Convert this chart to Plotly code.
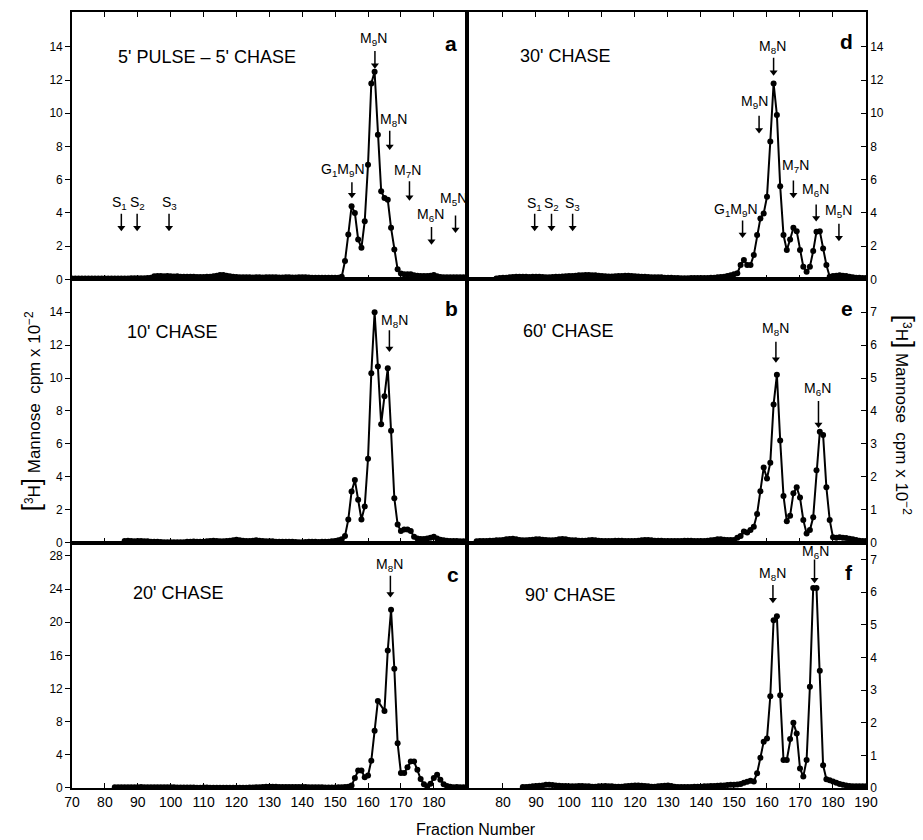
import plotly.graph_objects as go

# ------------------------------------------------------------------ data
# fraction numbers and [3H]Mannose cpm x 10^-2 for each chase time
frac_a = list(range(70, 191))
cpm_a = [0.05, 0.05, 0.05, 0.05, 0.05, 0.05, 0.05, 0.05, 0.05, 0.05,
         0.05, 0.05, 0.05, 0.05, 0.05, 0.05, 0.05, 0.05, 0.06, 0.06,
         0.06, 0.06, 0.07, 0.08, 0.10, 0.18, 0.20, 0.20, 0.18, 0.20,
         0.18, 0.17, 0.18, 0.16, 0.15, 0.16, 0.15, 0.15, 0.14, 0.14,
         0.14, 0.15, 0.16, 0.18, 0.22, 0.26, 0.26, 0.22, 0.18, 0.15,
         0.14, 0.13, 0.12, 0.12, 0.12, 0.11, 0.12, 0.12, 0.11, 0.12,
         0.12, 0.12, 0.12, 0.11, 0.11, 0.12, 0.12, 0.11, 0.11, 0.12,
         0.12, 0.12, 0.11, 0.10, 0.10, 0.10, 0.10, 0.10, 0.10, 0.10,
         0.10, 0.10, 0.15, 1.1, 2.7, 4.4, 4.0, 2.4, 1.9, 3.5,
         6.9, 11.8, 12.5, 8.7, 5.3, 4.9, 4.8, 3.1, 1.8, 0.6,
         0.35, 0.3, 0.3, 0.3, 0.25, 0.22, 0.2, 0.2, 0.2, 0.22,
         0.26, 0.18, 0.14, 0.13, 0.12, 0.12, 0.13, 0.12, 0.12, 0.12,
         0.12]

frac_b = list(range(86, 191))
cpm_b = [0.10, 0.12, 0.10, 0.08,
         0.10, 0.10, 0.08, 0.08, 0.06, 0.05, 0.05, 0.04, 0.03, 0.03,
         0.03, 0.02, 0.02, 0.02, 0.03, 0.05, 0.06, 0.07, 0.06, 0.06,
         0.06, 0.08, 0.10, 0.12, 0.10, 0.08, 0.08, 0.10, 0.12, 0.15,
         0.18, 0.15, 0.12, 0.10, 0.10, 0.12, 0.14, 0.12, 0.10, 0.08,
         0.08, 0.08, 0.06, 0.06, 0.05, 0.05, 0.06, 0.05, 0.04, 0.03,
         0.03, 0.04, 0.06, 0.06, 0.05, 0.04, 0.05, 0.05, 0.06, 0.08,
         0.10, 0.15, 0.2, 0.4, 1.4, 3.1, 3.8, 2.6, 1.4, 2.2,
         5.1, 10.3, 14.0, 10.7, 7.2, 8.9, 10.6, 6.8, 2.7, 1.1,
         0.7, 0.8, 0.8, 0.7, 0.35, 0.25, 0.22, 0.22, 0.25, 0.3,
         0.35, 0.25, 0.18, 0.14, 0.12, 0.10, 0.10, 0.10, 0.08, 0.08,
         0.08]

frac_c = list(range(83, 164)) + list(range(165, 191))
cpm_c = [0.10, 0.10, 0.10, 0.10, 0.10, 0.10, 0.10,
         0.10, 0.12, 0.10, 0.10, 0.08, 0.10, 0.10, 0.10, 0.08, 0.08,
         0.08, 0.08, 0.06, 0.06, 0.05, 0.05, 0.05, 0.05, 0.04, 0.04,
         0.05, 0.05, 0.04, 0.03, 0.03, 0.02, 0.02, 0.02, 0.02, 0.02,
         0.02, 0.02, 0.03, 0.04, 0.05, 0.06, 0.08, 0.10, 0.12, 0.14,
         0.15, 0.14, 0.14, 0.12, 0.12, 0.12, 0.12, 0.12, 0.12, 0.12,
         0.12, 0.12, 0.10, 0.10, 0.10, 0.10, 0.08, 0.06, 0.05, 0.05,
         0.05, 0.08, 0.10, 0.12, 0.15, 0.3, 1.2, 2.1, 2.1, 1.3,
         1.5, 3.3, 6.9, 10.5,
         9.3, 16.6, 21.5, 14.4, 5.4,
         1.8, 1.8, 2.5, 3.2, 3.2, 2.2, 1.1, 0.45, 0.2, 0.5,
         1.2, 1.6, 1.0, 0.45, 0.25, 0.15, 0.10, 0.12, 0.10, 0.10,
         0.10]

frac_d = list(range(78, 191))
cpm_d = [0.05, 0.08,
         0.10, 0.10, 0.12, 0.14, 0.15, 0.16, 0.16, 0.15, 0.14, 0.15,
         0.16, 0.15, 0.14, 0.13, 0.13, 0.14, 0.15, 0.16, 0.17, 0.18,
         0.20, 0.20, 0.22, 0.24, 0.25, 0.26, 0.26, 0.25, 0.24, 0.22,
         0.20, 0.18, 0.17, 0.17, 0.18, 0.20, 0.20, 0.21, 0.22, 0.20,
         0.18, 0.17, 0.16, 0.15, 0.14, 0.13, 0.13, 0.12, 0.12, 0.10,
         0.10, 0.09, 0.08, 0.08, 0.07, 0.07, 0.07, 0.08, 0.08, 0.08,
         0.08, 0.08, 0.08, 0.10, 0.10, 0.12, 0.14, 0.16, 0.20, 0.25,
         0.30, 0.36, 0.86, 1.16, 0.86, 0.86, 1.46, 2.67, 3.67, 3.97,
         4.97, 8.3, 11.8, 9.9, 5.6, 2.67, 1.76, 2.4, 3.1, 2.9,
         1.76, 0.76, 0.46, 0.76, 1.7, 2.87, 2.9, 1.86, 0.86, 0.16,
         0.2, 0.22, 0.25, 0.22, 0.2, 0.15, 0.12, 0.10, 0.10, 0.08,
         0.08]

frac_e = list(range(72, 191))
cpm_e = [0.04, 0.05, 0.05, 0.05, 0.06, 0.06, 0.07, 0.07,
         0.08, 0.10, 0.11, 0.12, 0.10, 0.08, 0.07, 0.07, 0.08, 0.09,
         0.10, 0.10, 0.09, 0.08, 0.07, 0.07, 0.08, 0.10, 0.11, 0.10,
         0.08, 0.07, 0.07, 0.06, 0.06, 0.06, 0.07, 0.08, 0.07, 0.06,
         0.05, 0.05, 0.05, 0.05, 0.06, 0.06, 0.06, 0.05, 0.05, 0.05,
         0.05, 0.06, 0.07, 0.08, 0.08, 0.07, 0.06, 0.06, 0.06, 0.05,
         0.05, 0.05, 0.05, 0.05, 0.05, 0.06, 0.06, 0.06, 0.05, 0.05,
         0.05, 0.05, 0.06, 0.07, 0.08, 0.10, 0.10, 0.09, 0.08, 0.08,
         0.08, 0.15, 0.20, 0.34, 0.31, 0.38, 0.48, 0.87, 1.56, 2.28,
         1.95, 2.43, 4.2, 5.1, 3.1, 1.42, 0.65, 0.82, 1.5, 1.68,
         1.37, 0.69, 0.28, 0.38, 0.77, 2.2, 3.37, 3.27, 1.68, 0.69,
         0.16, 0.15, 0.16, 0.15, 0.14, 0.12, 0.10, 0.08, 0.06, 0.05,
         0.05]

frac_f = list(range(86, 191))
cpm_f = [0.03, 0.03, 0.04, 0.05,
         0.06, 0.07, 0.08, 0.10, 0.10, 0.09, 0.08, 0.07, 0.06, 0.06,
         0.05, 0.05, 0.05, 0.06, 0.06, 0.05, 0.05, 0.04, 0.04, 0.05,
         0.05, 0.06, 0.05, 0.05, 0.04, 0.04, 0.04, 0.05, 0.06, 0.07,
         0.08, 0.08, 0.07, 0.06, 0.05, 0.04, 0.04, 0.05, 0.06, 0.07,
         0.08, 0.06, 0.04, 0.03, 0.03, 0.03, 0.03, 0.03, 0.04, 0.04,
         0.04, 0.05, 0.05, 0.06, 0.06, 0.07, 0.08, 0.08, 0.09, 0.10,
         0.10, 0.11, 0.12, 0.16, 0.19, 0.22, 0.20, 0.45, 0.93, 1.42,
         1.52, 2.81, 5.14, 5.26, 2.84, 0.86, 0.86, 1.5, 2.0, 1.67,
         0.6, 0.35, 0.86, 3.1, 6.13, 6.13, 3.59, 0.7, 0.27, 0.24,
         0.2, 0.16, 0.12, 0.10, 0.08, 0.06, 0.05, 0.05, 0.05, 0.05,
         0.05]

titles = ["5' PULSE \u2013 5' CHASE", "10' CHASE", "20' CHASE",
          "30' CHASE", "60' CHASE", "90' CHASE"]
letters = ["a", "b", "c", "d", "e", "f"]
left_ticks_x = [70, 80, 90, 100, 110, 120, 130, 140, 150, 160, 170, 180]
right_ticks_x = [80, 90, 100, 110, 120, 130, 140, 150, 160, 170, 180, 190]
ticks_y_14 = [0, 2, 4, 6, 8, 10, 12, 14]
ticks_y_28 = [0, 4, 8, 12, 16, 20, 24, 28]
ticks_y_7 = [0, 1, 2, 3, 4, 5, 6, 7]

# marker labels: (text, label x, label y, arrow x, arrow tail y, arrow head y)
marks_a = [("S<sub>1</sub>", 84.5, 4.6, 85.0, 3.95, 3.1),
           ("S<sub>2</sub>", 89.8, 4.6, 89.8, 3.95, 3.1),
           ("S<sub>3</sub>", 99.5, 4.6, 99.5, 3.95, 3.1),
           ("G<sub>1</sub>M<sub>9</sub>N", 152.3, 6.6, 155.1, 5.85, 5.1),
           ("M<sub>9</sub>N", 161.8, 14.5, 162.1, 13.75, 12.9),
           ("M<sub>8</sub>N", 167.8, 9.6, 166.6, 8.95, 8.0),
           ("M<sub>7</sub>N", 172.1, 6.5, 172.6, 5.9, 4.95),
           ("M<sub>6</sub>N", 178.9, 3.9, 179.3, 3.15, 2.3),
           ("M<sub>5</sub>N", 186.0, 4.85, 186.6, 3.85, 3.0)]
marks_b = [("M<sub>8</sub>N", 167.9, 13.45, 166.5, 12.9, 11.8)]
marks_c = [("M<sub>8</sub>N", 166.5, 26.9, 166.8, 25.6, 23.4)]
marks_d = [("S<sub>1</sub>", 89.6, 4.55, 89.6, 3.95, 3.1),
           ("S<sub>2</sub>", 94.7, 4.55, 94.7, 3.95, 3.1),
           ("S<sub>3</sub>", 101.1, 4.55, 101.1, 3.95, 3.1),
           ("G<sub>1</sub>M<sub>9</sub>N", 150.6, 4.2, 152.6, 3.55, 2.7),
           ("M<sub>9</sub>N", 156.1, 10.7, 157.6, 9.85, 9.0),
           ("M<sub>8</sub>N", 161.8, 14.0, 162.0, 13.35, 12.47),
           ("M<sub>7</sub>N", 168.5, 6.85, 168.0, 5.95, 5.1),
           ("M<sub>6</sub>N", 174.6, 5.4, 174.9, 4.5, 3.7),
           ("M<sub>5</sub>N", 181.6, 4.1, 181.8, 3.35, 2.5)]
marks_e = [("M<sub>8</sub>N", 162.6, 6.48, 162.7, 6.1, 5.57),
           ("M<sub>6</sub>N", 175.4, 4.66, 175.6, 4.3, 3.59)]
marks_f = [("M<sub>8</sub>N", 161.7, 6.57, 161.8, 6.22, 5.77),
           ("M<sub>6</sub>N", 174.6, 7.23, 174.4, 7.0, 6.38)]

# ------------------------------------------------------------------ layout
FONT = "Liberation Sans, Arial, sans-serif"
COL_L = [0.0, 0.4971]
COL_R = [0.4971, 1.0]
ROW_T = [0.6555, 1.0]
ROW_M = [0.3162, 0.6555]
ROW_B = [0.0, 0.3162]

panels = [
    dict(x=frac_a, y=cpm_a, col="L", row=ROW_T, xr=[70, 190], yr=[0, 16.1],
         yt=ticks_y_14, marks=marks_a, tpos=(83.4, 13.4), lpos=(185.3, 14.2)),
    dict(x=frac_b, y=cpm_b, col="L", row=ROW_M, xr=[70, 190], yr=[0, 16.0],
         yt=ticks_y_14, marks=marks_b, tpos=(86.0, 12.8), lpos=(185.3, 14.25)),
    dict(x=frac_c, y=cpm_c, col="L", row=ROW_B, xr=[70, 190], yr=[0, 29.6],
         yt=ticks_y_28, marks=marks_c, tpos=(88.0, 23.5), lpos=(185.8, 25.8)),
    dict(x=frac_d, y=cpm_d, col="R", row=ROW_T, xr=[69, 190], yr=[0, 16.1],
         yt=ticks_y_14, marks=marks_d, tpos=(84.5, 13.45), lpos=(184.2, 14.3)),
    dict(x=frac_e, y=cpm_e, col="R", row=ROW_M, xr=[69, 190], yr=[0, 8.0],
         yt=ticks_y_7, marks=marks_e, tpos=(85.4, 6.42), lpos=(184.1, 7.11)),
    dict(x=frac_f, y=cpm_f, col="R", row=ROW_B, xr=[69, 190], yr=[0, 7.52],
         yt=ticks_y_7, marks=marks_f, tpos=(86.1, 5.9), lpos=(184.9, 6.6)),
]

fig = go.Figure()
annotations = []
layout = {}

for i, p in enumerate(panels):
    n = i + 1
    xs = "" if n == 1 else str(n)
    xref, yref = "x" + xs, "y" + xs
    fig.add_trace(go.Scatter(
        x=p["x"], y=p["y"], mode="lines+markers",
        line=dict(color="black", width=2),
        marker=dict(color="black", size=6),
        xaxis=xref, yaxis=yref, hoverinfo="x+y"))

    # arrows: shafts and heads
    sx, sy, hx, hy = [], [], [], []
    for (txt, lx, ly, axx, tail, head) in p["marks"]:
        sx += [axx, axx, None]
        sy += [tail, head, None]
        hx.append(axx)
        hy.append(head)
    fig.add_trace(go.Scatter(x=sx, y=sy, mode="lines",
                             line=dict(color="black", width=1.5),
                             xaxis=xref, yaxis=yref, hoverinfo="skip"))
    fig.add_trace(go.Scatter(x=hx, y=hy, mode="markers",
                             marker=dict(symbol="triangle-down", size=7,
                                         color="black"),
                             xaxis=xref, yaxis=yref, hoverinfo="skip"))

    left = p["col"] == "L"
    top = p["row"] is ROW_T
    bottom = p["row"] is ROW_B
    layout["xaxis" + xs] = dict(
        domain=COL_L if left else COL_R, anchor=yref, range=p["xr"],
        tickmode="array", tickvals=left_ticks_x if left else right_ticks_x,
        showticklabels=bottom, ticks="inside", ticklen=5, tickwidth=1.3,
        tickcolor="black", showline=True, linecolor="black", linewidth=1.6,
        mirror="ticks" if top else True, showgrid=False, zeroline=False,
        tickfont=dict(family=FONT, size=14, color="black"))
    layout["yaxis" + xs] = dict(
        domain=p["row"], anchor=xref, range=p["yr"], side="left" if left else "right",
        tickmode="array", tickvals=p["yt"],
        ticks="outside" if left else "inside", ticklen=5, tickwidth=1.3,
        tickcolor="black", showline=True, linecolor="black", linewidth=1.6,
        mirror=True, showgrid=False, zeroline=False,
        tickfont=dict(family=FONT, size=12, color="black"))

    annotations.append(dict(x=p["tpos"][0], y=p["tpos"][1], xref=xref, yref=yref,
                            text=titles[i], showarrow=False, xanchor="left",
                            yanchor="middle",
                            font=dict(family=FONT, size=18, color="black")))
    annotations.append(dict(x=p["lpos"][0], y=p["lpos"][1], xref=xref, yref=yref,
                            text="<b>%s</b>" % letters[i], showarrow=False,
                            xanchor="center", yanchor="middle",
                            font=dict(family=FONT, size=21, color="black")))
    for (txt, lx, ly, axx, tail, head) in p["marks"]:
        annotations.append(dict(x=lx, y=ly, xref=xref, yref=yref, text=txt,
                                showarrow=False, xanchor="center", yanchor="middle",
                                font=dict(family=FONT, size=14, color="black")))

ytitle = ("<span style='font-size:26px'>[</span><sup>3</sup>H"
          "<span style='font-size:26px'>]</span> Mannose  cpm x 10<sup>\u22122</sup>")
annotations.append(dict(x=-0.052, y=0.485, xref="paper", yref="paper", text=ytitle,
                        textangle=-90, showarrow=False, xanchor="center",
                        yanchor="middle", font=dict(family=FONT, size=17, color="black")))
annotations.append(dict(x=1.049, y=0.481, xref="paper", yref="paper", text=ytitle,
                        textangle=90, showarrow=False, xanchor="center",
                        yanchor="middle", font=dict(family=FONT, size=17, color="black")))
annotations.append(dict(x=0.509, y=-0.053, xref="paper", yref="paper",
                        text="Fraction Number", showarrow=False, xanchor="center",
                        yanchor="middle", font=dict(family=FONT, size=16, color="black")))

fig.update_layout(width=923, height=840, showlegend=False,
                  margin=dict(l=72, r=57, t=10, b=52),
                  paper_bgcolor="white", plot_bgcolor="white",
                  annotations=annotations, **layout)

fig.write_html("out.html")
